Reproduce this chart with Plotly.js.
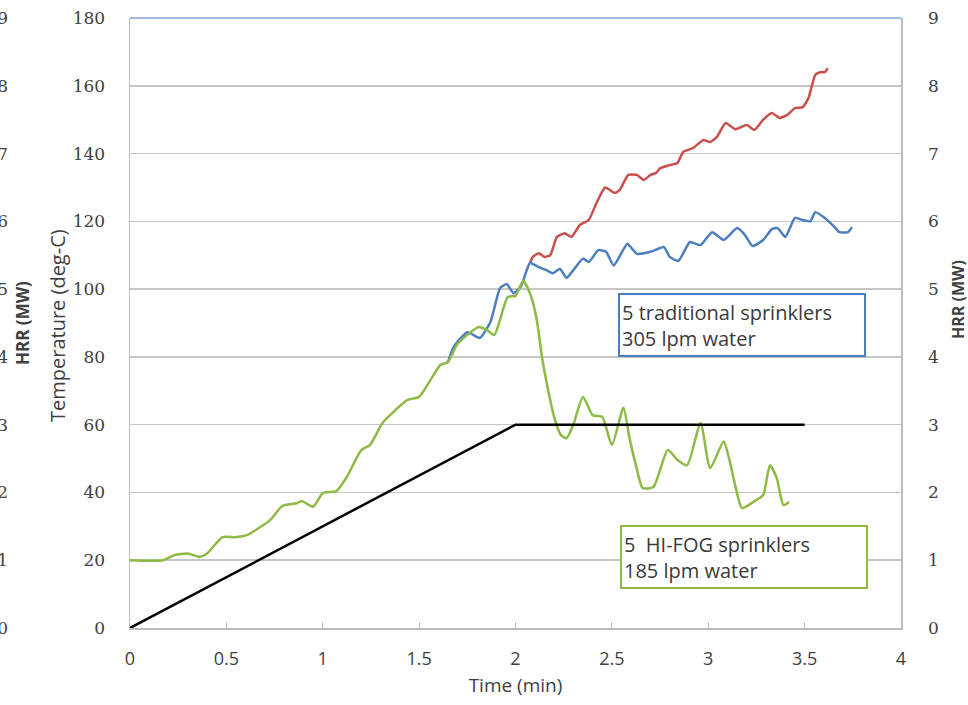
<!DOCTYPE html>
<html>
<head>
<meta charset="utf-8">
<script src="https://cdn.plot.ly/plotly-3.0.1.min.js"></script>
<style>html,body{margin:0;padding:0;background:#fff;}#chart{width:968px;height:705px;}</style>
</head>
<body>
<div id="chart"></div>
<script>
// HI-FOG (green), temperature deg-C
var fogTime = [0,0.17,0.23,0.30,0.36,0.40,0.48,0.545,0.61,0.66,0.73,0.79,0.865,0.89,0.95,1.0,1.07,1.125,1.20,1.245,1.31,1.36,1.44,1.50,1.575,1.61,1.65,1.695,1.75,1.81,1.85,1.89,1.96,2.0,2.04,2.08,2.11,2.14,2.17,2.20,2.235,2.265,2.30,2.35,2.40,2.45,2.50,2.56,2.59,2.625,2.66,2.715,2.79,2.84,2.89,2.96,3.01,3.08,3.11,3.14,3.175,3.25,3.285,3.32,3.355,3.39,3.42];
var fogTemp = [20,20,21.5,22,21,22,26.8,26.8,27.5,29.2,32,36,36.8,37.5,35.8,39.8,40.4,44.6,52.5,54,60.5,63.4,67.3,68.2,74.7,77.6,78.5,83.5,86.5,88.8,88,86.5,97.7,98,102.5,98,91,79,70,62.3,57,56,60,68.2,62.8,62.3,54,65,56.4,48,41.3,41.6,52.5,49.6,48,60.5,47.2,55,49.6,42,35.4,37.8,39.2,48,44.3,36.3,37.2];

// Traditional sprinklers (blue), temperature deg-C
var tradTime = [1.65,1.68,1.75,1.815,1.87,1.92,1.955,1.99,2.03,2.075,2.12,2.16,2.195,2.23,2.265,2.30,2.35,2.38,2.43,2.47,2.51,2.58,2.63,2.70,2.77,2.80,2.845,2.905,2.96,3.02,3.08,3.15,3.19,3.23,3.285,3.33,3.36,3.40,3.45,3.49,3.53,3.555,3.605,3.65,3.68,3.725,3.745];
var tradTemp = [78.5,83,87.3,85.6,90.3,100.3,101.5,98.8,101,107.7,106.5,105.6,104.7,106,103.3,105.6,109,108,111.5,111,107,113.3,110.4,111,112.4,109.5,108.3,113.9,113,116.8,114.5,118,116,112.7,114.5,117.7,118,115.4,121,120.4,120,122.7,121,118.6,116.8,116.8,118.3];

// Upper curve (red), temperature deg-C
var redTime = [2.075,2.09,2.12,2.15,2.18,2.215,2.255,2.29,2.335,2.38,2.42,2.465,2.515,2.54,2.585,2.63,2.665,2.70,2.73,2.75,2.80,2.84,2.87,2.92,2.975,3.01,3.045,3.09,3.14,3.20,3.24,3.285,3.33,3.37,3.41,3.45,3.49,3.52,3.555,3.58,3.605,3.62];
var redTemp = [107.7,109.5,110.6,109.5,110,115.4,116.5,115.4,119,120.4,125.4,130,128.4,129.2,133.7,133.7,132.2,133.7,134.3,135.7,136.6,137.2,140.5,141.6,144,143.4,144.9,149,147.2,148.4,147,150,152,150.5,151.4,153.4,153.7,156.4,163.2,164,164,165.2];

// Design HRR curve (black), MW
var hrrTime = [0, 2, 3.5];
var hrrMW = [0, 3, 3];

var xTicks = [0,0.5,1,1.5,2,2.5,3,3.5,4];
var xTickText = ['0','0.5','1','1.5','2','2.5','3','3.5','4'];
var tempTicks = [0,20,40,60,80,100,120,140,160,180];
var hrrTicks = [0,1,2,3,4,5,6,7,8,9];

var boxTrad = '5 traditional sprinklers<br>305 lpm water';
var boxFog = '5  HI-FOG sprinklers<br>185 lpm water';

var txt = '#404040';
var grid = '#c6c6c6';
var ml = 8, mr = 67, W = 968;
var x0 = (130 - ml) / (W - ml - mr);

var traces = [
  {x: redTime, y: redTemp, type: 'scatter', mode: 'lines', line: {color: '#C8504D', width: 2.5, shape: 'spline', smoothing: 0.5}, xaxis: 'x', yaxis: 'y', hoverinfo: 'skip'},
  {x: tradTime, y: tradTemp, type: 'scatter', mode: 'lines', line: {color: '#4A7EC0', width: 2.5, shape: 'spline', smoothing: 0.5}, xaxis: 'x', yaxis: 'y', hoverinfo: 'skip'},
  {x: fogTime, y: fogTemp, type: 'scatter', mode: 'lines', line: {color: '#8DBA45', width: 2.5, shape: 'spline', smoothing: 0.6}, xaxis: 'x', yaxis: 'y', hoverinfo: 'skip'},
  {x: hrrTime, y: hrrMW, type: 'scatter', mode: 'lines', line: {color: '#000000', width: 2.5}, xaxis: 'x', yaxis: 'y2', hoverinfo: 'skip'},
  {x: [0], y: [0], type: 'scatter', mode: 'markers', marker: {opacity: 0}, xaxis: 'x', yaxis: 'y3', hoverinfo: 'skip'}
];

var layout = {
  width: 968, height: 705,
  margin: {l: ml, r: mr, t: 18, b: 77},
  paper_bgcolor: '#ffffff', plot_bgcolor: '#ffffff',
  showlegend: false,
  font: {family: 'Open Sans, sans-serif', color: txt},
  xaxis: {
    domain: [x0, 1], range: [0, 4], tickvals: xTicks, ticktext: xTickText,
    showgrid: false, zeroline: false, showline: true, linecolor: '#bdbdbd', linewidth: 1.5,
    ticks: 'inside', ticklen: 6, tickcolor: '#bdbdbd', tickwidth: 1,
    tickfont: {family: 'Open Sans, sans-serif', size: 18, color: txt},
    ticklabelstandoff: 14,
    title: {text: 'Time (min)', font: {family: 'Open Sans, sans-serif', size: 19, color: txt}, standoff: 9}
  },
  yaxis: {
    range: [0, 180], tickvals: tempTicks, showgrid: true, gridcolor: grid, gridwidth: 1.5,
    zeroline: false, showline: true, linecolor: '#bdbdbd', linewidth: 1.5, ticks: '',
    tickfont: {family: 'DejaVu Serif, serif', size: 17, color: txt},
    ticklabelstandoff: 20
  },
  yaxis2: {
    range: [0, 9], tickvals: hrrTicks, overlaying: 'y', side: 'right', anchor: 'x',
    showgrid: false, zeroline: false, showline: true, linecolor: '#bdbdbd', linewidth: 1.5, ticks: '',
    tickfont: {family: 'DejaVu Serif, serif', size: 17, color: txt},
    ticklabelstandoff: 22
  },
  yaxis3: {
    range: [0, 9], tickvals: hrrTicks, overlaying: 'y', side: 'left', anchor: 'free', position: 0,
    showgrid: false, zeroline: false, showline: false, ticks: '',
    tickfont: {family: 'DejaVu Serif, serif', size: 17, color: txt},
    ticklabelstandoff: 0
  },
  shapes: [
    {type: 'line', xref: 'x domain', yref: 'y domain', x0: 0, x1: 1, y0: 1, y1: 1, line: {color: '#a3bcdc', width: 2}}
  ],
  annotations: [
    {xref: 'x', yref: 'y', x: 2.53, y: 99, xanchor: 'left', yanchor: 'top', text: boxTrad, showarrow: false, align: 'left',
     width: 240, height: 56, bordercolor: '#4A7EC0', borderwidth: 2, borderpad: 2, bgcolor: '#ffffff',
     font: {family: 'Open Sans, sans-serif', size: 20, color: '#3a3a3a'}},
    {xref: 'x', yref: 'y', x: 2.54, y: 30.4, xanchor: 'left', yanchor: 'top', text: boxFog, showarrow: false, align: 'left',
     width: 240, height: 56, bordercolor: '#8DBA45', borderwidth: 2, borderpad: 2, bgcolor: '#ffffff',
     font: {family: 'Open Sans, sans-serif', size: 20, color: '#3a3a3a'}},
    {xref: 'x domain', yref: 'y domain', x: 0, y: 0.5, xshift: -73, yshift: -3, xanchor: 'center', yanchor: 'middle', textangle: -90,
     text: 'Temperature (deg-C)', showarrow: false, font: {family: 'Open Sans, sans-serif', size: 20, color: txt}},
    {xref: 'x domain', yref: 'y domain', x: 0, y: 0.5, xshift: -108, xanchor: 'center', yanchor: 'middle', textangle: -90,
     text: '<b>HRR (MW)</b>', showarrow: false, font: {family: 'Open Sans, sans-serif', size: 17, color: txt}},
    {xref: 'x domain', yref: 'y domain', x: 1, y: 0.5, xshift: 57, yshift: 23, xanchor: 'center', yanchor: 'middle', textangle: -90,
     text: '<b>HRR (MW)</b>', showarrow: false, font: {family: 'Open Sans, sans-serif', size: 16, color: txt}}
  ]
};

Plotly.newPlot('chart', traces, layout, {displayModeBar: false, staticPlot: true});
</script>
</body>
</html>
